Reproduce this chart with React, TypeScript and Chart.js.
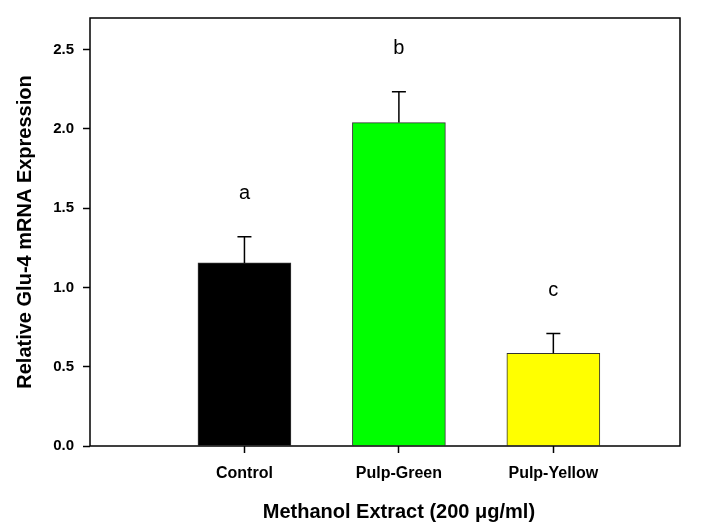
import React, { useEffect, useRef } from "react";
import { Chart, registerables } from "chart.js";

Chart.register(...registerables);

const categories = ["Control", "Pulp-Green", "Pulp-Yellow"];
const positions = [1, 2, 3];
const means = [1.155, 2.04, 0.585];
const errors = [0.165, 0.195, 0.125];
const letters = ["a", "b", "c"];
const barColors = ["#000000", "#00ff00", "#ffff00"];
const yTicks = [0, 0.5, 1.0, 1.5, 2.0, 2.5];
const xTitle = "Methanol Extract (200 \u03bcg/ml)";
const yTitle = "Relative Glu-4 mRNA Expression";

const FONT = "Arial, 'Liberation Sans', sans-serif";

const framePlugin = {
  id: "frame",
  afterDraw(chart: any) {
    const { ctx, chartArea } = chart;
    ctx.save();
    ctx.strokeStyle = "#000";
    ctx.lineWidth = 1.5;
    ctx.strokeRect(chartArea.left, chartArea.top, chartArea.right - chartArea.left, chartArea.bottom - chartArea.top);
    // x axis title centred under the middle category
    const xs = chart.scales.x;
    ctx.fillStyle = "#000";
    ctx.font = `bold 20px ${FONT}`;
    ctx.textAlign = "center";
    ctx.textBaseline = "middle";
    ctx.fillText(xTitle, xs.getPixelForValue(positions[1]), chartArea.bottom + 66);
    ctx.restore();
  },
};

const errorPlugin = {
  id: "errorbars",
  afterDatasetsDraw(chart: any) {
    const { ctx } = chart;
    const yScale = chart.scales.y;
    const xScale = chart.scales.x;
    ctx.save();
    ctx.strokeStyle = "#000";
    ctx.lineWidth = 1.5;
    means.forEach((m, i) => {
      const x = xScale.getPixelForValue(positions[i]);
      const yTop = yScale.getPixelForValue(m);
      const yCap = yScale.getPixelForValue(m + errors[i]);
      ctx.beginPath();
      ctx.moveTo(x, yTop);
      ctx.lineTo(x, yCap);
      ctx.moveTo(x - 7, yCap);
      ctx.lineTo(x + 7, yCap);
      ctx.stroke();
      ctx.fillStyle = "#000";
      ctx.font = `20px ${FONT}`;
      ctx.textAlign = "center";
      ctx.textBaseline = "middle";
      ctx.fillText(letters[i], x, yCap - 43);
    });
    ctx.restore();
  },
};

export default function App() {
  const ref = useRef<HTMLCanvasElement | null>(null);
  useEffect(() => {
    if (!ref.current) return;
    const chart = new Chart(ref.current, {
      type: "bar",
      data: {
        datasets: [
          {
            data: positions.map((p, i) => ({ x: p, y: means[i] })),
            backgroundColor: barColors,
            borderColor: "#333333",
            borderWidth: 1,
            barThickness: 93,
          },
        ],
      },
      options: {
        animation: false,
        responsive: false,
        layout: { padding: { left: 0, top: 14, right: 37, bottom: 0 } },
        plugins: { legend: { display: false }, tooltip: { enabled: false } },
        scales: {
          x: {
            type: "linear",
            offset: false,
            min: 0,
            max: 3.82,
            afterBuildTicks: (s: any) => {
              s.ticks = positions.map((v) => ({ value: v }));
            },
            afterFit: (s: any) => {
              s.height = 84;
            },
            grid: { display: true, offset: false, drawOnChartArea: false, drawTicks: true, tickLength: 7, tickColor: "#000", tickWidth: 1.5 },
            border: { display: false },
            ticks: {
              autoSkip: false,
              maxRotation: 0,
              padding: 11,
              color: "#000",
              font: { family: FONT, size: 16, weight: "bold" },
              callback: (v: any) => categories[positions.indexOf(Number(v))] ?? "",
            },
          },
          y: {
            min: 0,
            max: 2.7,
            afterBuildTicks: (s: any) => {
              s.ticks = yTicks.map((v) => ({ value: v }));
            },
            afterFit: (s: any) => {
              s.width = 90;
            },
            grid: { display: true, drawOnChartArea: false, drawTicks: true, tickLength: 7, tickColor: "#000", tickWidth: 1.5 },
            border: { display: false },
            ticks: {
              padding: 9,
              color: "#000",
              font: { family: FONT, size: 15, weight: "bold" },
              callback: (v: any) => Number(v).toFixed(1),
            },
            title: {
              display: true,
              text: yTitle,
              color: "#000",
              font: { family: FONT, size: 20, weight: "bold" },
              padding: { top: 13, bottom: 0 },
            },
          },
        },
      },
      plugins: [framePlugin, errorPlugin],
    } as any);
    return () => chart.destroy();
  }, []);
  return (
    <div style={{ position: "absolute", left: 0, top: 0, width: 717, height: 530, background: "#fff" }}>
      <canvas ref={ref} width={717} height={530} style={{ display: "block" }} />
    </div>
  );
}
